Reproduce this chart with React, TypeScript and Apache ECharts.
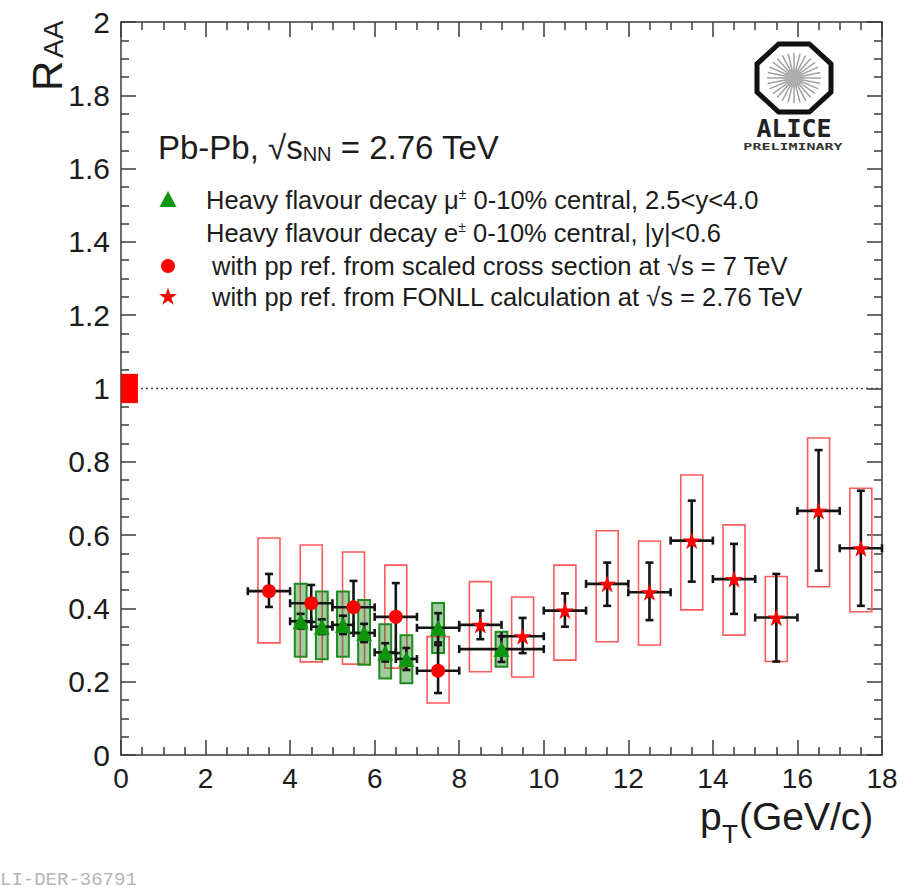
import React, { useEffect, useRef } from "react";
import * as echarts from "echarts";

// ---- Heavy-flavour decay electrons, pp ref. from scaled 7 TeV cross section (circles)
const eScaledPt = [3.5, 4.5, 5.5, 6.5, 7.5];
const eScaledPtErr = [0.5, 0.5, 0.5, 0.5, 0.5];
const eScaledRaa = [0.447, 0.414, 0.403, 0.377, 0.23];
const eScaledStatLo = [0.404, 0.363, 0.333, 0.278, 0.169];
const eScaledStatHi = [0.494, 0.464, 0.475, 0.469, 0.3];
const eScaledSysLo = [0.306, 0.254, 0.248, 0.237, 0.142];
const eScaledSysHi = [0.592, 0.573, 0.554, 0.518, 0.323];

// ---- Heavy-flavour decay electrons, pp ref. from FONLL at 2.76 TeV (stars)
const eFonllPt = [8.5, 9.5, 10.5, 11.5, 12.5, 13.5, 14.5, 15.5, 16.5, 17.5];
const eFonllPtErr = [0.5, 0.5, 0.5, 0.5, 0.5, 0.5, 0.5, 0.5, 0.5, 0.5];
const eFonllRaa = [0.355, 0.324, 0.394, 0.467, 0.444, 0.585, 0.48, 0.375, 0.666, 0.564];
const eFonllStatLo = [0.316, 0.278, 0.35, 0.407, 0.368, 0.473, 0.385, 0.255, 0.503, 0.407];
const eFonllStatHi = [0.394, 0.374, 0.441, 0.525, 0.525, 0.694, 0.576, 0.494, 0.832, 0.721];
const eFonllSysLo = [0.227, 0.213, 0.259, 0.309, 0.3, 0.396, 0.327, 0.255, 0.459, 0.391];
const eFonllSysHi = [0.473, 0.431, 0.518, 0.612, 0.584, 0.764, 0.628, 0.487, 0.865, 0.728];

// ---- Heavy-flavour decay muons, 2.5<y<4.0 (triangles)
const muPt = [4.25, 4.75, 5.25, 5.75, 6.25, 6.75, 7.5, 9.0];
const muPtErr = [0.25, 0.25, 0.25, 0.25, 0.25, 0.25, 0.5, 1.0];
const muRaa = [0.365, 0.35, 0.355, 0.333, 0.28, 0.262, 0.347, 0.289];
const muStatLo = [0.345, 0.33, 0.33, 0.308, 0.255, 0.232, 0.307, 0.254];
const muStatHi = [0.385, 0.37, 0.38, 0.358, 0.305, 0.292, 0.387, 0.324];
const muSysLo = [0.268, 0.261, 0.268, 0.246, 0.209, 0.196, 0.278, 0.241];
const muSysHi = [0.467, 0.446, 0.446, 0.423, 0.357, 0.327, 0.415, 0.336];

// ---- normalisation uncertainty at RAA = 1 and reference line
const normPt = [0.2];
const normLo = [0.96];
const normHi = [1.04];
const refLineX = [0, 18];
const refLineY = [1, 1];

// axis ranges
const xRange = [0, 18];
const yRange = [0, 2];

const FONT = '"Liberation Sans", Arial, Helvetica, sans-serif';
const TXT = "#1c1c1c";
const AXC = "#3a3a3a";

const STAR_PATH =
  "path://M0 -100 L22 -31 L95 -31 L36 12 L59 81 L0 38 L-59 81 L-36 12 L-95 -31 L-22 -31 Z";

function starPoints(cx: number, cy: number, R: number) {
  const pts: number[][] = [];
  for (let k = 0; k < 10; k++) {
    const r = k % 2 === 0 ? R : R * 0.382;
    const a = -Math.PI / 2 + (k * Math.PI) / 5;
    pts.push([cx + r * Math.cos(a), cy + r * Math.sin(a)]);
  }
  return pts;
}

function boxRenderer(halfWidth: number, fill: string, stroke: string, lw: number) {
  return (params: any, api: any) => {
    const x = api.value(0);
    const lo = api.value(1);
    const hi = api.value(2);
    const p1 = api.coord([x - halfWidth, hi]);
    const p2 = api.coord([x + halfWidth, lo]);
    return {
      type: "rect",
      shape: { x: p1[0], y: p1[1], width: p2[0] - p1[0], height: p2[1] - p1[1] },
      style: { fill, stroke, lineWidth: lw },
    };
  };
}

function errRenderer(params: any, api: any) {
  const x = api.value(0);
  const y = api.value(1);
  const xe = api.value(2);
  const lo = api.value(3);
  const hi = api.value(4);
  const c = api.coord([x, y]);
  const l = api.coord([x - xe, y]);
  const r = api.coord([x + xe, y]);
  const t = api.coord([x, hi]);
  const b = api.coord([x, lo]);
  const cap = 4;
  const style = { stroke: "#141414", lineWidth: 2.6 };
  const ln = (x1: number, y1: number, x2: number, y2: number) => ({
    type: "line",
    shape: { x1, y1, x2, y2 },
    style,
  });
  return {
    type: "group",
    children: [
      ln(l[0], c[1], r[0], c[1]),
      ln(l[0], c[1] - cap, l[0], c[1] + cap),
      ln(r[0], c[1] - cap, r[0], c[1] + cap),
      ln(c[0], t[1], c[0], b[1]),
      ln(c[0] - cap, t[1], c[0] + cap, t[1]),
      ln(c[0] - cap, b[1], c[0] + cap, b[1]),
    ],
  };
}

function errData(pt: number[], raa: number[], pe: number[], lo: number[], hi: number[]) {
  return pt.map((x, i) => [x, raa[i], pe[i], lo[i], hi[i]]);
}
function sysData(pt: number[], lo: number[], hi: number[]) {
  return pt.map((x, i) => [x, lo[i], hi[i]]);
}

function aliceLogo() {
  const cx = 794;
  const cy = 78;
  const rx = 37;
  const ry = 34;
  const oct: number[][] = [];
  for (let k = 0; k < 8; k++) {
    const a = Math.PI / 8 + (k * Math.PI) / 4;
    oct.push([cx + (rx / Math.cos(Math.PI / 8)) * Math.cos(a), cy + (ry / Math.cos(Math.PI / 8)) * Math.sin(a)]);
  }
  const spokes: any[] = [];
  const n = 28;
  for (let k = 0; k < n; k++) {
    const a = (k * 2 * Math.PI) / n;
    spokes.push({
      type: "line",
      shape: {
        x1: cx + 8 * Math.cos(a),
        y1: cy + 8 * Math.sin(a),
        x2: cx + 27 * Math.cos(a),
        y2: cy + 25 * Math.sin(a),
      },
      style: { stroke: "#a0a0a0", lineWidth: 1.5 },
    });
  }
  return [
    { type: "polygon", shape: { points: oct }, style: { fill: "#fff", stroke: "#111", lineWidth: 5 } },
    ...spokes,
    { type: "circle", shape: { cx, cy, r: 9 }, style: { fill: "#adadad" } },
    {
      type: "text",
      x: cx,
      y: 128,
      style: {
        text: "ALICE",
        fill: "#222",
        fontSize: 25,
        fontWeight: "bold",
        fontFamily: '"DejaVu Sans Mono", monospace',
        align: "center",
        verticalAlign: "middle",
      },
    },
    {
      type: "text",
      x: cx - 1,
      y: 147,
      scaleY: 0.6,
      style: {
        text: "PRELIMINARY",
        fill: "#333",
        fontSize: 15,
        fontWeight: "bold",
        fontFamily: '"DejaVu Sans Mono", monospace',
        align: "center",
        verticalAlign: "middle",
      },
    },
  ];
}

function legendGraphics() {
  const legFs = 25.5;
  const richBase = {
    a: { fontSize: legFs, fontFamily: FONT, fill: TXT, color: TXT },
    s: { fontSize: 14, fontFamily: FONT, fill: TXT, color: TXT, verticalAlign: "top" },
  };
  const row = (x: number, y: number, text: string) => ({
    type: "text",
    x,
    y,
    style: { text, rich: richBase, verticalAlign: "middle", align: "left" },
  });
  const mx = 168;
  return [
    {
      type: "text",
      x: 158,
      y: 147,
      style: {
        text: "{a|Pb-Pb, √s}{b|NN}{a| = 2.76 TeV}",
        verticalAlign: "middle",
        align: "left",
        rich: {
          a: { fontSize: 33, fontFamily: FONT, fill: TXT, color: TXT },
          b: { fontSize: 20, fontFamily: FONT, fill: TXT, color: TXT, verticalAlign: "bottom" },
        },
      },
    },
    {
      type: "polygon",
      shape: { points: [[mx, 191], [mx + 8.5, 207], [mx - 8.5, 207]] },
      style: { fill: "#0d960d" },
    },
    row(206, 200, "{a|Heavy flavour decay μ}{s|±}{a| 0-10% central, 2.5<y<4.0}"),
    row(206, 233, "{a|Heavy flavour decay e}{s|±}{a| 0-10% central, |y|<0.6}"),
    { type: "circle", shape: { cx: mx, cy: 266, r: 7 }, style: { fill: "#ff0000" } },
    row(212, 266, "{a|with pp ref. from scaled cross section at √s = 7 TeV}"),
    { type: "polygon", shape: { points: starPoints(mx, 297, 9.5) }, style: { fill: "#ff0000" } },
    row(212, 297, "{a|with pp ref. from FONLL calculation at √s = 2.76 TeV}"),
  ];
}

function titleGraphics() {
  return [
    // y title R_AA (rotated)
    {
      type: "text",
      x: 47,
      y: 91,
      rotation: Math.PI / 2,
      style: { text: "R", fontSize: 42, fontFamily: FONT, fill: TXT, align: "left", verticalAlign: "middle" },
    },
    {
      type: "text",
      x: 53,
      y: 58,
      rotation: Math.PI / 2,
      style: { text: "AA", fontSize: 28, fontFamily: FONT, fill: TXT, align: "left", verticalAlign: "middle" },
    },
    // x title p_T(GeV/c)
    {
      type: "text",
      x: 700,
      y: 816,
      style: { text: "p", fontSize: 39, fontFamily: FONT, fill: TXT, align: "left", verticalAlign: "middle" },
    },
    {
      type: "text",
      x: 722,
      y: 834,
      style: { text: "T", fontSize: 26, fontFamily: FONT, fill: TXT, align: "left", verticalAlign: "middle" },
    },
    {
      type: "text",
      x: 739,
      y: 816,
      style: { text: "(GeV/c)", fontSize: 39, fontFamily: FONT, fill: TXT, align: "left", verticalAlign: "middle" },
    },
    // figure id (leading character cut off at the page edge in the original)
    {
      type: "text",
      x: 0,
      y: 880,
      style: {
        text: "LI-DER-36791",
        fontSize: 19,
        fontFamily: '"Liberation Mono", "DejaVu Sans Mono", monospace',
        fill: "#b4b4b4",
        align: "left",
        verticalAlign: "middle",
      },
    },
  ];
}

function axisCommon(extra: any) {
  return {
    type: "value",
    axisLine: { show: true, onZero: false, lineStyle: { color: AXC, width: 1.5 } },
    axisTick: { show: true, inside: true, length: 15, lineStyle: { color: AXC, width: 1.5 } },
    minorTick: { show: true, splitNumber: 4, length: 8, lineStyle: { color: AXC, width: 1.5 } },
    splitLine: { show: false },
    minorSplitLine: { show: false },
    ...extra,
  };
}

export default function App() {
  const ref = useRef<HTMLDivElement>(null);
  useEffect(() => {
    if (!ref.current) return;
    const chart = echarts.init(ref.current, null, { renderer: "svg" });
    const labelStyle = { fontFamily: FONT, color: TXT, showMinLabel: true, showMaxLabel: true };
    const option: any = {
      animation: false,
      backgroundColor: "#ffffff",
      grid: { left: 121, right: 40, top: 22, bottom: 137, containLabel: false },
      xAxis: [
        axisCommon({
          min: xRange[0],
          max: xRange[1],
          interval: 2,
          position: "bottom",
          axisLabel: { ...labelStyle, fontSize: 28, margin: 9 },
        }),
        axisCommon({
          min: xRange[0],
          max: xRange[1],
          interval: 2,
          position: "top",
          axisLabel: { show: false },
        }),
      ],
      yAxis: [
        axisCommon({
          min: yRange[0],
          max: yRange[1],
          interval: 0.2,
          position: "left",
          axisLabel: { ...labelStyle, fontSize: 30, margin: 11 },
        }),
        axisCommon({
          min: yRange[0],
          max: yRange[1],
          interval: 0.2,
          position: "right",
          axisLabel: { show: false },
        }),
      ],
      series: [
        {
          name: "ref",
          type: "line",
          data: refLineX.map((x, i) => [x, refLineY[i]]),
          symbol: "none",
          lineStyle: { color: "#444", width: 1.5, type: [2, 3] },
          z: 1,
        },
        {
          name: "norm",
          type: "custom",
          renderItem: boxRenderer(0.2, "#ff0000", "#ff0000", 0),
          data: sysData(normPt, normLo, normHi),
          z: 2,
        },
        {
          name: "eScaledSys",
          type: "custom",
          renderItem: boxRenderer(0.26, "none", "#ff5a5a", 1.6),
          data: sysData(eScaledPt, eScaledSysLo, eScaledSysHi),
          z: 2,
        },
        {
          name: "eFonllSys",
          type: "custom",
          renderItem: boxRenderer(0.26, "none", "#ff5a5a", 1.6),
          data: sysData(eFonllPt, eFonllSysLo, eFonllSysHi),
          z: 2,
        },
        {
          name: "muSys",
          type: "custom",
          renderItem: boxRenderer(0.14, "rgba(30,130,30,0.42)", "#1f8a1f", 2),
          data: sysData(muPt, muSysLo, muSysHi),
          z: 3,
        },
        {
          name: "eScaledErr",
          type: "custom",
          renderItem: errRenderer,
          data: errData(eScaledPt, eScaledRaa, eScaledPtErr, eScaledStatLo, eScaledStatHi),
          z: 4,
        },
        {
          name: "eFonllErr",
          type: "custom",
          renderItem: errRenderer,
          data: errData(eFonllPt, eFonllRaa, eFonllPtErr, eFonllStatLo, eFonllStatHi),
          z: 4,
        },
        {
          name: "muErr",
          type: "custom",
          renderItem: errRenderer,
          data: errData(muPt, muRaa, muPtErr, muStatLo, muStatHi),
          z: 4,
        },
        {
          name: "eScaled",
          type: "scatter",
          data: eScaledPt.map((x, i) => [x, eScaledRaa[i]]),
          symbol: "circle",
          symbolSize: 14,
          itemStyle: { color: "#ff0000", opacity: 1 },
          z: 5,
        },
        {
          name: "eFonll",
          type: "scatter",
          data: eFonllPt.map((x, i) => [x, eFonllRaa[i]]),
          symbol: STAR_PATH,
          symbolKeepAspect: true,
          symbolSize: 18,
          itemStyle: { color: "#ff0000", opacity: 1 },
          z: 5,
        },
        {
          name: "mu",
          type: "scatter",
          data: muPt.map((x, i) => [x, muRaa[i]]),
          symbol: "triangle",
          symbolSize: [16, 16],
          itemStyle: { color: "#0d960d", opacity: 1 },
          z: 6,
        },
      ],
      graphic: [...titleGraphics(), ...legendGraphics(), ...aliceLogo()],
    };
    chart.setOption(option);
    return () => chart.dispose();
  }, []);
  return (
    <div
      ref={ref}
      style={{ position: "fixed", left: 0, top: 0, width: 922, height: 892, background: "#fff" }}
    />
  );
}
